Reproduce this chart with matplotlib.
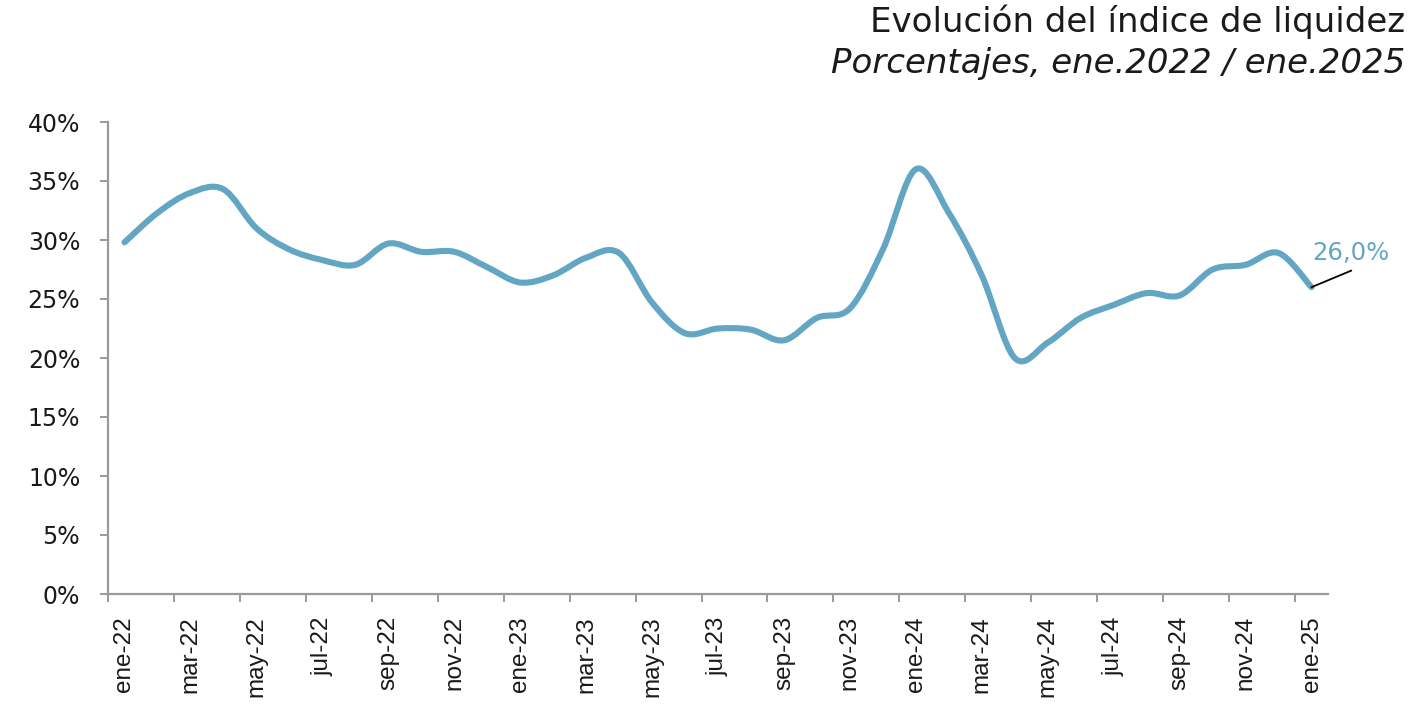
import numpy as np
import matplotlib
matplotlib.use("Agg")
import matplotlib.pyplot as plt
from matplotlib.path import Path
from matplotlib.patches import PathPatch
from matplotlib.ticker import FixedLocator, FuncFormatter

# Monthly liquidity index, ene-2022 .. ene-2025 (percent)
months = ["ene", "feb", "mar", "abr", "may", "jun", "jul", "ago", "sep", "oct", "nov", "dic"]
years = [22, 23, 24, 25]
labels = [f"{months[i % 12]}-{years[i // 12]}" for i in range(37)]
liquidez = [29.8, 32.3, 34.0, 34.3, 31.0, 29.2, 28.3, 27.9, 29.7, 29.0, 29.0, 27.7,
            26.4, 27.0, 28.5, 28.9, 24.7, 22.1, 22.5, 22.4, 21.5, 23.4, 24.2, 29.2,
            36.0, 32.3, 27.0, 20.0, 21.3, 23.4, 24.5, 25.5, 25.3, 27.5, 27.9, 28.9,
            26.0]
y_ticks = [0, 5, 10, 15, 20, 25, 30, 35, 40]

LINE = "#62a6c4"
AXIS = "#9a9a9a"
TXT = "#1a1a1a"
HEAD_FONT = "DejaVu Sans"
XFONT = "Liberation Sans"

fig = plt.figure(figsize=(14.16, 7.12), dpi=100)
ax = fig.add_axes([108 / 1416, 1 - 594 / 712, (1328 - 108) / 1416, (594 - 122) / 712])

# Smoothed line (Catmull-Rom as cubic Bezier segments)
x = np.arange(len(liquidez), dtype=float)
y = np.asarray(liquidez, dtype=float)
pts = np.column_stack([x, y])
verts = [tuple(pts[0])]
codes = [Path.MOVETO]
n = len(pts)
for i in range(n - 1):
    p0 = pts[i - 1] if i > 0 else pts[i]
    p1 = pts[i]
    p2 = pts[i + 1]
    p3 = pts[i + 2] if i + 2 < n else pts[i + 1]
    c1 = p1 + (p2 - p0) / 6.0
    c2 = p2 - (p3 - p1) / 6.0
    verts += [tuple(c1), tuple(c2), tuple(p2)]
    codes += [Path.CURVE4] * 3
ax.add_patch(PathPatch(Path(verts, codes), fill=False, edgecolor=LINE, lw=4.4,
                       capstyle="round", joinstyle="round", zorder=3))

ax.set_xlim(-0.5, len(liquidez) - 0.5)
ax.set_ylim(0, 40)

# Spines
for s in ["top", "right"]:
    ax.spines[s].set_visible(False)
for s in ["left", "bottom"]:
    ax.spines[s].set_color(AXIS)
    ax.spines[s].set_linewidth(1.6)

# Y axis
ax.set_yticks(y_ticks)
ax.yaxis.set_major_formatter(FuncFormatter(lambda v, p: f"{int(v)}%"))
ax.tick_params(axis="y", direction="out", length=6, width=1.4, color=AXIS,
               pad=14, labelsize=17, labelcolor=TXT)
for t in ax.get_yticklabels():
    t.set_fontfamily(HEAD_FONT)

# X axis: tick marks between categories, labels every two months
ax.xaxis.set_major_locator(FixedLocator(np.arange(-0.5, len(liquidez) - 1, 2)))
ax.xaxis.set_major_formatter(FuncFormatter(lambda v, p: ""))
ax.xaxis.set_minor_locator(FixedLocator(np.arange(0, len(liquidez), 2)))
ax.set_xticklabels([labels[i] for i in range(0, len(liquidez), 2)], minor=True)
ax.tick_params(axis="x", which="major", direction="out", length=6, width=1.4, color=AXIS)
ax.tick_params(axis="x", which="minor", length=0, pad=16, labelsize=17.5,
               labelcolor=TXT, labelrotation=90)
for t in ax.get_xticklabels(minor=True):
    t.set_fontfamily(XFONT)

# End value label with leader line
ax.plot([x[-1], 37.2], [y[-1], 27.4], color="black", lw=1.3, clip_on=False, zorder=4)
ax.text(37.2, 27.85, f"{liquidez[-1]:.1f}%".replace(".", ","),
        fontsize=17.5, family=HEAD_FONT, color=LINE,
        ha="center", va="bottom", clip_on=False)

# Title block
fig.text(1405 / 1416, 1 - 22 / 712, "Evolución del índice de liquidez",
         ha="right", va="center", fontsize=24.5, family=HEAD_FONT, color=TXT)
fig.text(1405 / 1416, 1 - 63 / 712, "Porcentajes, ene.2022 / ene.2025",
         ha="right", va="center", fontsize=24.5, family=HEAD_FONT, style="italic",
         color=TXT)

fig.savefig("out.png", dpi=100)
